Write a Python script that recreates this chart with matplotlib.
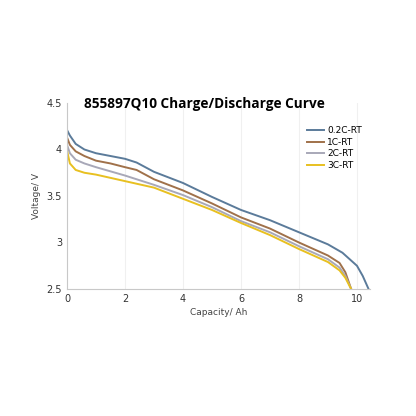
import matplotlib
matplotlib.use("Agg")
import matplotlib.pyplot as plt

x_02 = [0, 0.1, 0.3, 0.6, 1, 1.5, 2, 2.4, 3, 4, 5, 6, 7, 8, 9, 9.5, 10, 10.2, 10.4]
y_02 = [4.21, 4.15, 4.06, 4.00, 3.96, 3.93, 3.90, 3.86, 3.76, 3.64, 3.49, 3.35, 3.24, 3.11, 2.98, 2.89, 2.75, 2.64, 2.5]
x_1 = [0, 0.1, 0.3, 0.6, 1, 1.5, 2, 2.4, 3, 4, 5, 6, 7, 8, 9, 9.4, 9.6, 9.8]
y_1 = [4.13, 4.05, 3.98, 3.93, 3.88, 3.85, 3.81, 3.78, 3.68, 3.56, 3.42, 3.27, 3.15, 3.00, 2.86, 2.78, 2.68, 2.5]
x_2 = [0, 0.1, 0.3, 0.6, 1, 2, 3, 4, 5, 6, 7, 8, 9, 9.4, 9.6, 9.8]
y_2 = [4.05, 3.96, 3.89, 3.85, 3.81, 3.72, 3.62, 3.51, 3.38, 3.23, 3.11, 2.96, 2.82, 2.73, 2.64, 2.5]
x_3 = [0, 0.1, 0.3, 0.6, 1, 2, 3, 4, 5, 6, 7, 8, 9, 9.4, 9.6, 9.8]
y_3 = [3.99, 3.85, 3.78, 3.75, 3.73, 3.66, 3.59, 3.47, 3.35, 3.21, 3.08, 2.93, 2.79, 2.70, 2.62, 2.5]
labels = ["0.2C-RT", "1C-RT", "2C-RT", "3C-RT"]
colors = ["#5b7b9a", "#a0714a", "#a8a8b8", "#e8c020"]

fig = plt.figure(figsize=(4.16, 4.16), dpi=100)
ax = fig.add_axes([67/416, 1-289/416, (370-67)/416, (289-103)/416])
for xs, ys, lab, c in zip([x_02, x_1, x_2, x_3], [y_02, y_1, y_2, y_3], labels, colors):
    ax.plot(xs, ys, color=c, lw=1.4, label=lab, solid_joinstyle="round")
ax.set_xlim(0, 10.45)
ax.set_ylim(2.5, 4.5)
ax.set_xticks([0, 2, 4, 6, 8, 10])
ax.set_yticks([2.5, 3, 3.5, 4, 4.5])
ax.set_yticklabels(["2.5", "3", "3.5", "4", "4.5"])
ax.grid(axis="x", color="#f0f0f0", lw=0.8)
for s in ["top", "right"]:
    ax.spines[s].set_visible(False)
for s in ["left", "bottom"]:
    ax.spines[s].set_color("#c8c8c8")
ax.tick_params(length=0, labelsize=7, colors="#333333")
ax.set_xlabel("Capacity/ Ah", fontsize=6.5, color="#444444", labelpad=3)
ax.set_ylabel("Voltage/ V", fontsize=6.5, color="#444444", labelpad=4)
ax.legend(loc="upper right", bbox_to_anchor=(1.0, 0.92), frameon=False, fontsize=6.5,
          handlelength=1.8, labelspacing=0.3, handletextpad=0.4)
fig.text(204/416, 1-104/416, "855897Q10 Charge/Discharge Curve", ha="center", va="center",
         fontsize=9.8, fontweight="bold", family="Open Sans")
fig.savefig("out.png", dpi=100, facecolor="white")
